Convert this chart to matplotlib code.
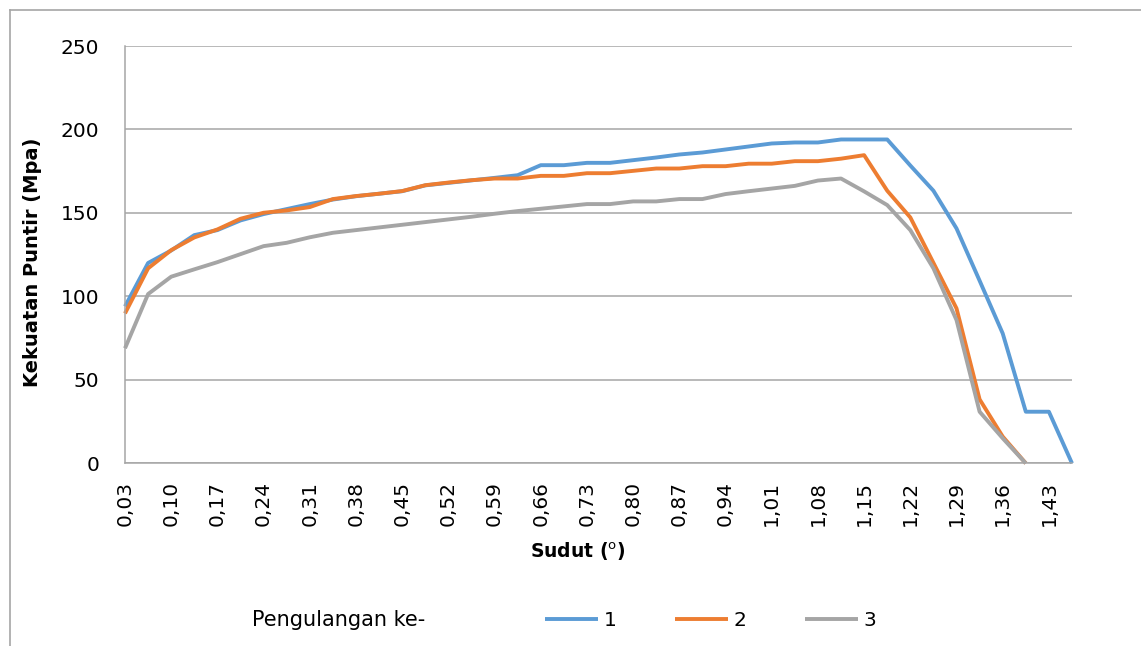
import matplotlib
matplotlib.use("Agg")
import matplotlib.pyplot as plt
from matplotlib.lines import Line2D
import numpy as np

# ---- data ----
sudut_labels = ["0,03", "0,07", "0,10", "0,14", "0,17", "0,21", "0,24", "0,28", "0,31", "0,35",
                "0,38", "0,42", "0,45", "0,49", "0,52", "0,56", "0,59", "0,63", "0,66", "0,70",
                "0,73", "0,77", "0,80", "0,84", "0,87", "0,91", "0,94", "0,98", "1,01", "1,05",
                "1,08", "1,12", "1,15", "1,19", "1,22", "1,26", "1,29", "1,33", "1,36", "1,40",
                "1,43", "1,47"]

seri_1 = [94, 120, 127.5, 136.7, 139.7, 145.5, 149.3, 152.3, 155.3, 158,
          160, 161.5, 163, 166.5, 168, 169.5, 171, 172.6, 178.6, 178.6,
          180, 180, 181.6, 183.2, 185, 186.2, 188, 189.8, 191.6, 192.2,
          192.2, 194, 194, 194, 178.4, 163.3, 140.7, 109.4, 77.8, 30.9,
          30.9, 0]

seri_2 = [89.8, 116.8, 127.7, 135.3, 140.1, 146.5, 150.1, 151.5, 153.5, 158.3,
          160.1, 161.5, 163.1, 166.6, 168.2, 169.6, 170.6, 170.6, 172.2, 172.2,
          173.8, 173.8, 175.2, 176.6, 176.6, 178, 178, 179.5, 179.5, 181,
          181, 182.5, 184.6, 163.3, 147.3, 120.1, 92.8, 38.3, 16, 0,
          None, None]

seri_3 = [68.9, 101.4, 111.8, 116.2, 120.5, 125.3, 130.1, 132.1, 135.4, 138.1,
          139.7, 141.3, 142.9, 144.5, 146.1, 147.7, 149.5, 151.1, 152.5, 153.9,
          155.3, 155.3, 156.9, 156.9, 158.3, 158.3, 161.3, 163, 164.6, 166.2,
          169.4, 170.6, 162.9, 154.7, 139.7, 116.8, 85.8, 30.9, 15, 0,
          None, None]

series_names = ["1", "2", "3"]
series_colors = ["#5B9BD5", "#ED7D31", "#A5A5A5"]
y_ticks = [0, 50, 100, 150, 200, 250]

# ---- figure ----
W, H = 1141, 646
fig = plt.figure(figsize=(W / 100, H / 100), dpi=100)
plt.rcParams['font.family'] = ['DejaVu Sans']

def fx(px):
    return px / W

def fy(py):
    return 1 - py / H

# chart border (only left and top edges are inside the picture)
fig.add_artist(Line2D([fx(10), fx(10)], [fy(10), 0], transform=fig.transFigure,
                      color="#A6A6A6", linewidth=1.2))
fig.add_artist(Line2D([fx(10), 1], [fy(10), fy(10)], transform=fig.transFigure,
                      color="#A6A6A6", linewidth=1.2))

ax = fig.add_axes([fx(125), fy(463.3), fx(1072) - fx(125), fy(46) - fy(463.3)])

x = np.arange(len(sudut_labels))
for vals, name, col in zip([seri_1, seri_2, seri_3], series_names, series_colors):
    v = np.array([np.nan if a is None else a for a in vals], dtype=float)
    ax.plot(x, v, color=col, linewidth=2.8, label=name, clip_on=False,
            solid_joinstyle="round", solid_capstyle="butt")

ax.set_xlim(0, len(sudut_labels) - 1)
ax.set_ylim(0, 250)
ax.set_yticks(y_ticks)
ax.set_yticklabels([str(t) for t in y_ticks], fontsize=14.5)
ax.set_xticks(x[::2])
ax.set_xticklabels(sudut_labels[::2], rotation=90, fontsize=14.5)
ax.tick_params(axis="y", length=0, pad=18.5, colors="black")
ax.tick_params(axis="x", length=0, pad=12.5, colors="black")

ax.grid(axis="y", color="#A6A6A6", linewidth=1.1)
ax.set_axisbelow(True)
for s in ["top", "right"]:
    ax.spines[s].set_visible(False)
for s in ["left", "bottom"]:
    ax.spines[s].set_color("#A6A6A6")
    ax.spines[s].set_linewidth(1.1)

fig.text(fx(33), fy(262.5), "Kekuatan Puntir (Mpa)", rotation=90,
         ha="center", va="center", fontsize=14, fontweight="bold")
fig.text(fx(578), fy(552), r"Sudut ($^{\mathrm{o}}$)", ha="center", va="center",
         fontsize=13.5, fontweight="bold")

fig.text(fx(252), fy(620), "Pengulangan ke-", ha="left", va="center", fontsize=15)
fig.legend(loc="center left", bbox_to_anchor=(fx(545), fy(621)), ncol=3,
           frameon=False, fontsize=14.5, borderpad=0, borderaxespad=0,
           handlelength=2.65, handletextpad=0.26, columnspacing=2.9)

fig.savefig("out.png", dpi=100)
